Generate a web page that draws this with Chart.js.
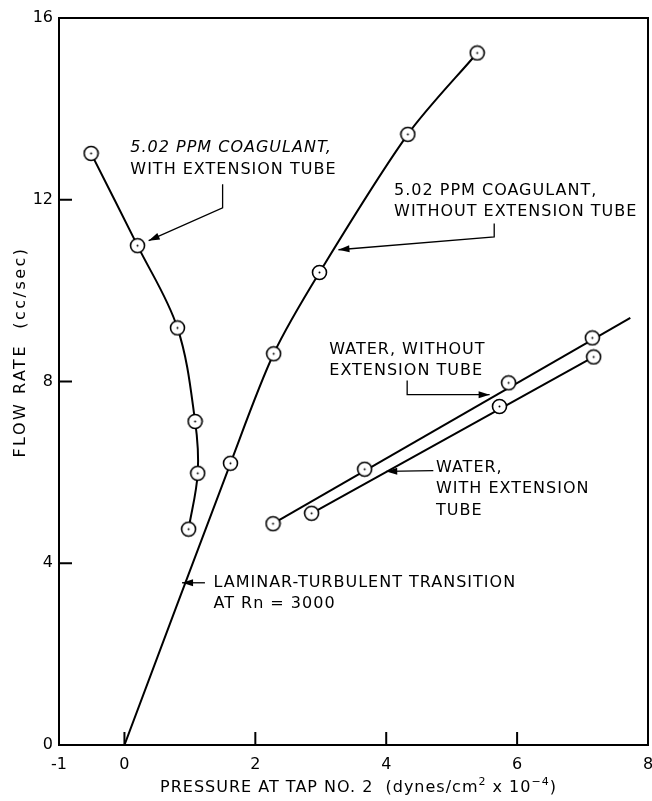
<!DOCTYPE html>
<html>
<head>
<meta charset="utf-8">
<script src="https://cdn.jsdelivr.net/npm/chart.js@4/dist/chart.umd.min.js"></script>
<style>
  html, body { margin: 0; padding: 0; background: #fff; overflow: hidden; }
  /* a few px wider than the window so the frame lands where the "8" label overhangs */
  #wrap { width: 657px; height: 801px; position: relative; }
</style>
</head>
<body>
<div id="wrap"><canvas id="flowChart"></canvas></div>
<script>
// values (pressure x1e-4 dynes/cm2, flow rate cc/sec)
const coagWithX = [-0.51, 0.20, 0.81, 1.08, 1.12, 0.98];
const coagWithY = [13.02, 10.99, 9.18, 7.12, 5.98, 4.75];

const coagWithoutX = [0, 1.62, 2.28, 2.98, 4.33, 5.39];
const coagWithoutY = [0, 6.20, 8.61, 10.40, 13.44, 15.23];

const waterNoTubeX = [2.27, 3.67, 5.87, 7.15];
const waterNoTubeY = [4.87, 6.07, 7.97, 8.96];
const waterNoTubeFitX = [2.27, 7.73];
const waterNoTubeFitY = [4.87, 9.40];

const waterTubeX = [2.86, 5.73, 7.17];
const waterTubeY = [5.10, 7.45, 8.54];
const waterTubeFitX = [2.86, 7.17];
const waterTubeFitY = [5.10, 8.54];

const xTicks = [-1, 0, 2, 4, 6, 8];
const yTicks = [0, 4, 8, 12, 16];

const labelCoagWith = ['5.02 PPM COAGULANT,', 'WITH EXTENSION TUBE'];
const labelCoagWithout = ['5.02 PPM COAGULANT,', 'WITHOUT EXTENSION TUBE'];
const labelWaterNoTube = ['WATER, WITHOUT', 'EXTENSION TUBE'];
const labelWaterTube = ['WATER,', 'WITH EXTENSION', 'TUBE'];
const labelTransition = ['LAMINAR-TURBULENT TRANSITION', 'AT Rn = 3000'];

const yTitle = 'FLOW RATE  (cc/sec)';
// x title pieces: [text, superscript?]
const xTitle = [['PRESSURE AT TAP NO. 2  (dynes/cm', false], ['2', true], [' x 10', false], ['−4', true], [')', false]];

const FONT = "'DejaVu Sans', sans-serif";
Chart.defaults.font.family = FONT;
Chart.defaults.color = '#000';

const pts = (xs, ys) => xs.map((x, i) => ({ x: x, y: ys[i] }));

// open circle with a dot in the middle
function makeMarker() {
	const c = document.createElement('canvas');
	c.width = 17;
	c.height = 17;
	const g = c.getContext('2d');
	g.beginPath();
	g.arc(8.5, 8.5, 7, 0, Math.PI * 2);
	g.fillStyle = '#fff';
	g.fill();
	g.lineWidth = 1.6;
	g.strokeStyle = '#000';
	g.stroke();
	g.beginPath();
	g.arc(8.5, 8.5, 1, 0, Math.PI * 2);
	g.fillStyle = '#000';
	g.fill();
	return c;
}
const marker = makeMarker();

// annotation layout (data units), text + leader lines
const notes = [
	{ lines: labelCoagWith, x: 0.09, y: 13.14, italicFirst: true,
	  path: [[1.50, 12.34], [1.50, 11.82], [0.37, 11.10]] },
	{ lines: labelCoagWithout, x: 4.12, y: 12.20,
	  path: [[5.65, 11.48], [5.65, 11.18], [3.27, 10.90]] },
	{ lines: labelWaterNoTube, x: 3.13, y: 8.70,
	  path: [[4.32, 8.02], [4.32, 7.71], [5.58, 7.71]] },
	{ lines: labelWaterTube, x: 4.76, y: 6.10,
	  path: [[4.72, 6.04], [4.00, 6.02]] },
	{ lines: labelTransition, x: 1.36, y: 3.57,
	  path: [[1.23, 3.57], [0.88, 3.57]] },
];

function arrowHead(ctx, x0, y0, x1, y1) {
	const a = Math.atan2(y1 - y0, x1 - x0);
	const len = 11, half = 3.5;
	ctx.beginPath();
	ctx.moveTo(x1, y1);
	ctx.lineTo(x1 - len * Math.cos(a) + half * Math.sin(a), y1 - len * Math.sin(a) - half * Math.cos(a));
	ctx.lineTo(x1 - len * Math.cos(a) - half * Math.sin(a), y1 - len * Math.sin(a) + half * Math.cos(a));
	ctx.closePath();
	ctx.fill();
}

const framePlugin = {
	id: 'frame',
	beforeDatasetsDraw(chart) {
		const { ctx, chartArea: a, scales } = chart;
		ctx.save();
		ctx.strokeStyle = '#000';
		ctx.lineWidth = 2;
		ctx.strokeRect(a.left, a.top, a.right - a.left, a.bottom - a.top);
		// inward tick marks
		ctx.beginPath();
		xTicks.forEach((v) => {
			if (v <= scales.x.min || v >= scales.x.max) return;
			const px = scales.x.getPixelForValue(v);
			ctx.moveTo(px, a.bottom);
			ctx.lineTo(px, a.bottom - 13);
		});
		yTicks.forEach((v) => {
			if (v <= scales.y.min || v >= scales.y.max) return;
			const py = scales.y.getPixelForValue(v);
			ctx.moveTo(a.left, py);
			ctx.lineTo(a.left + 13, py);
		});
		ctx.stroke();
		ctx.restore();
	},
	afterDraw(chart) {
		const { ctx, scales, chartArea: a } = chart;
		const X = (v) => scales.x.getPixelForValue(v);
		const Y = (v) => scales.y.getPixelForValue(v);
		ctx.save();
		ctx.fillStyle = '#000';
		ctx.strokeStyle = '#000';
		ctx.textBaseline = 'middle';
		ctx.textAlign = 'left';
		ctx.letterSpacing = '1px';
		notes.forEach((n) => {
			n.lines.forEach((t, i) => {
				ctx.font = (n.italicFirst && i === 0 ? 'italic ' : '') + '16px ' + FONT;
				ctx.fillText(t, X(n.x), Y(n.y) + i * 21.5);
			});
			ctx.lineWidth = 1.3;
			ctx.beginPath();
			n.path.forEach((p, i) => {
				if (i === 0) ctx.moveTo(X(p[0]), Y(p[1]));
				else ctx.lineTo(X(p[0]), Y(p[1]));
			});
			ctx.stroke();
			const k = n.path.length;
			arrowHead(ctx, X(n.path[k - 2][0]), Y(n.path[k - 2][1]), X(n.path[k - 1][0]), Y(n.path[k - 1][1]));
		});

		// x axis title with raised exponents
		const fontFor = (sup) => (sup ? '11px ' : '16px ') + FONT;
		let total = 0;
		xTitle.forEach(([t, sup]) => {
			ctx.font = fontFor(sup);
			total += ctx.measureText(t).width;
		});
		let tx = (a.left + a.right) / 2 + 5 - total / 2;
		const ty = scales.x.bottom - 13;
		xTitle.forEach(([t, sup]) => {
			ctx.font = fontFor(sup);
			ctx.fillText(t, tx, sup ? ty - 6 : ty);
			tx += ctx.measureText(t).width;
		});

		// y axis title
		ctx.letterSpacing = '2.5px';
		ctx.font = '16px ' + FONT;
		ctx.textAlign = 'center';
		ctx.translate(21, 352);
		ctx.rotate(-Math.PI / 2);
		ctx.fillText(yTitle, 0, 0);
		ctx.restore();
	},
};

const lineStyle = { borderColor: '#000', borderWidth: 2, showLine: true, fill: false };

new Chart(document.getElementById('flowChart'), {
	type: 'scatter',
	data: {
		datasets: [
			{
				...lineStyle,
				data: pts(coagWithX, coagWithY),
				tension: 0.35,
				pointStyle: marker,
				pointRadius: 7,
			},
			{
				...lineStyle,
				data: pts(coagWithoutX, coagWithoutY),
				tension: 0.3,
				pointStyle: marker,
				pointRadius: (c) => (c.dataIndex === 0 ? 0 : 7),
			},
			{ data: pts(waterNoTubeX, waterNoTubeY), pointStyle: marker, pointRadius: 7 },
			{ data: pts(waterTubeX, waterTubeY), pointStyle: marker, pointRadius: 7 },
			{ ...lineStyle, data: pts(waterNoTubeFitX, waterNoTubeFitY), pointRadius: 0 },
			{ ...lineStyle, data: pts(waterTubeFitX, waterTubeFitY), pointRadius: 0 },
		],
	},
	options: {
		responsive: true,
		maintainAspectRatio: false,
		animation: false,
		events: [],
		layout: { padding: { top: 18, right: 0, left: 0, bottom: 0 } },
		plugins: {
			legend: { display: false },
			tooltip: { enabled: false },
		},
		scales: {
			x: {
				type: 'linear',
				min: -1,
				max: 8,
				afterBuildTicks: (s) => {
					s.ticks = xTicks.map((v) => ({ value: v }));
				},
				afterFit: (s) => {
					s.height = 56;
					s.paddingLeft = 0;
					s.paddingRight = 0;
				},
				grid: { display: false, drawTicks: false },
				border: { display: false },
				ticks: { padding: 10, font: { size: 16 }, color: '#000', maxRotation: 0, autoSkip: false },
			},
			y: {
				type: 'linear',
				min: 0,
				max: 16,
				afterBuildTicks: (s) => {
					s.ticks = yTicks.map((v) => ({ value: v }));
				},
				afterFit: (s) => {
					s.width = 59;
				},
				grid: { display: false, drawTicks: false },
				border: { display: false },
				ticks: { padding: 6, font: { size: 16 }, color: '#000' },
			},
		},
	},
	plugins: [framePlugin],
});
</script>
</body>
</html>
